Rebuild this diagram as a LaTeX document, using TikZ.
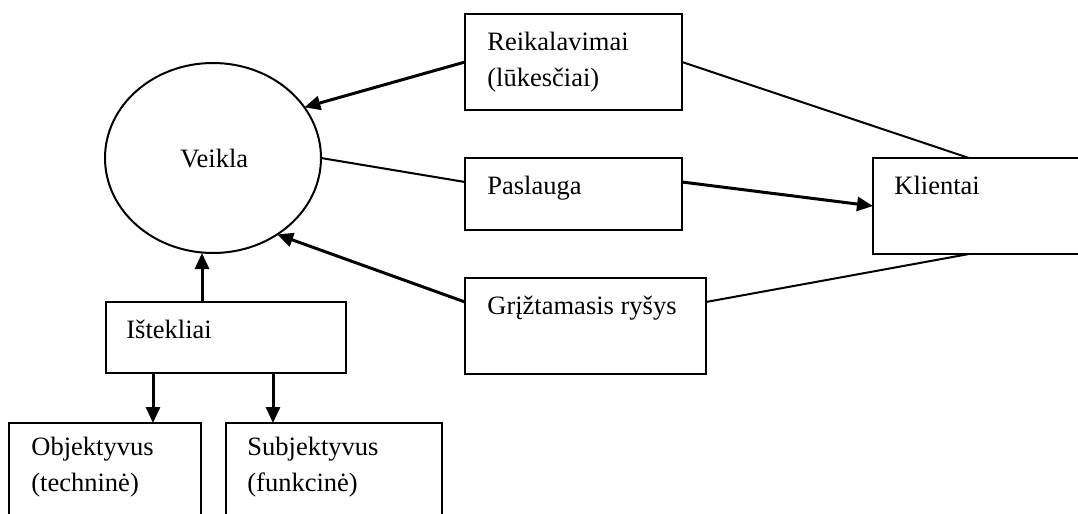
\documentclass[tikz,border=0pt]{standalone}
\usepackage{fontspec}
\setmainfont{Liberation Serif}
\usetikzlibrary{arrows.meta,calc,shapes.geometric}
\begin{document}
\begin{tikzpicture}[x=0.5pt,y=-0.5pt,
  box/.style={draw,line width=1pt,rectangle,inner sep=0pt,outer sep=0pt,anchor=north west},
  lbl/.style={anchor=base west,inner sep=0pt,font=\fontsize{13.25}{18}\selectfont},
  link/.style={line width=1pt},
  flow/.style={line width=1.5pt,-{Triangle[length=8pt,width=7pt]}}]
\useasboundingbox (0,0) rectangle (1078,514);
\clip (0,0) rectangle (1078,514);

% central activity
\node[draw,line width=1pt,ellipse,inner sep=0pt,outer sep=0pt,
      minimum width=108pt,minimum height=95pt] (vk) at (213,158) {};
\node[lbl] (vkt) at (180,167) {Veikla};

% boxes
\node[box,minimum width=108.5pt,minimum height=48pt] (req) at (465,14) {};
\node[box,minimum width=108.5pt,minimum height=36pt] (pas) at (465,158) {};
\node[box,minimum width=120.5pt,minimum height=48pt] (grz) at (465,278) {};
\node[box,minimum width=120pt,minimum height=48pt]   (kli) at (873,158) {};
\node[box,minimum width=120pt,minimum height=35.5pt] (ist) at (106,302) {};
\node[box,minimum width=96pt,minimum height=60pt]    (obj) at (9,423) {};
\node[box,minimum width=108pt,minimum height=60pt]   (sub) at (226,423) {};

% labels
\node[lbl] (req1) at ($(req.north west)+(22,36)$) {Reikalavimai};
\node[lbl] (req2) at ($(req.north west)+(22,72)$) {(lūkesčiai)};
\node[lbl] (past) at ($(pas.north west)+(22,36)$) {Paslauga};
\node[lbl] (grzt) at ($(grz.north west)+(22,36)$) {Grįžtamasis ryšys};
\node[lbl] (klit) at ($(kli.north west)+(21,36)$) {Klientai};
\node[lbl] (istt) at ($(ist.north west)+(20,36)$) {Ištekliai};
\node[lbl] (obj1) at ($(obj.north west)+(22,32)$) {Objektyvus};
\node[lbl] (obj2) at ($(obj.north west)+(22,68)$) {(techninė)};
\node[lbl] (sub1) at ($(sub.north west)+(21,32)$) {Subjektyvus};
\node[lbl] (sub2) at ($(sub.north west)+(21,68)$) {(funkcinė)};

% attachment points on box edges
\coordinate (istUp) at ($(ist.north west)+(96,0)$);
\coordinate (istL)  at ($(ist.south west)+(47,0)$);
\coordinate (istR)  at ($(ist.south west)+(167,0)$);
\coordinate (pasL)  at ($(pas.north west)+(0,24)$);
\coordinate (pasR)  at ($(pas.north east)+(0,24)$);
\coordinate (grzL)  at ($(grz.north west)+(0,24)$);
\coordinate (grzR)  at ($(grz.north east)+(0,24)$);
\coordinate (kliT)  at ($(kli.north west)+(96,0)$);
\coordinate (kliB)  at ($(kli.south west)+(96,0)$);

% connectors
\draw[flow] (req.west) -- (vk.29);
\draw[link] (req.east) -- (kliT);
\draw[link] (vk.east) -- (pasL);
\draw[flow] (pasR) -- (kli.west);
\draw[flow] (grzL) -- (vk.-50);
\draw[link] (grzR) -- (kliB);
\draw[flow] (istUp) -- (istUp |- vk.south);
\draw[flow] (istL) -- (istL |- obj.north);
\draw[flow] (istR) -- (istR |- sub.north);
\end{tikzpicture}
\end{document}
